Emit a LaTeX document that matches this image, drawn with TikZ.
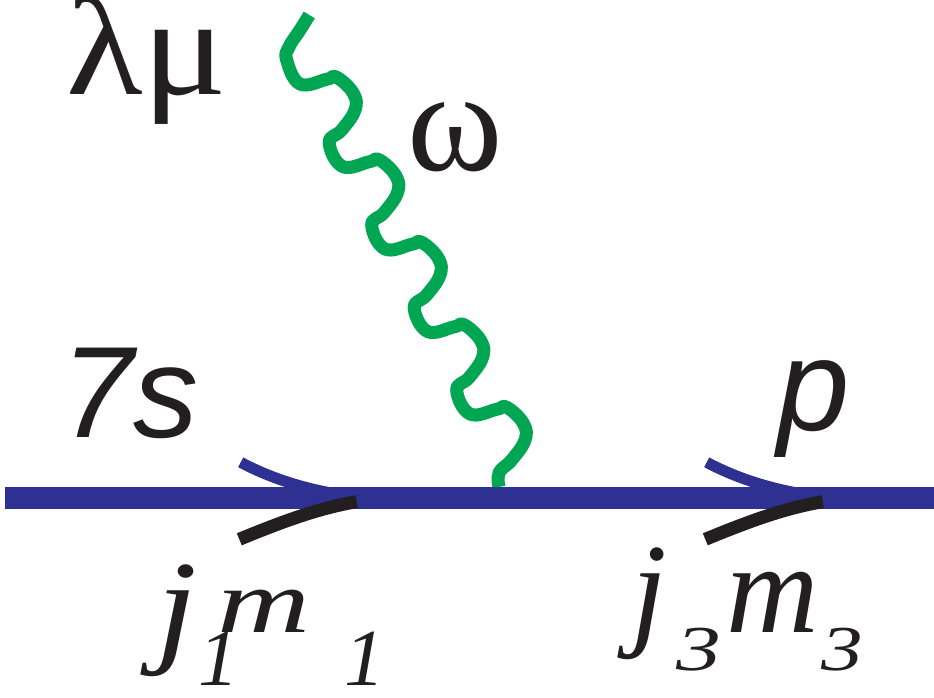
\documentclass[tikz,border=0pt]{standalone}
\usepackage{fontspec}
\usepackage{graphicx}
\setmainfont{Liberation Serif}
\newfontfamily\sansfnt{Liberation Sans}
\definecolor{lineblue}{RGB}{46,49,146}
\definecolor{photongreen}{RGB}{0,166,81}
\definecolor{inkblack}{RGB}{35,31,32}
\newcommand\glyphat[2]{\rlap{\hspace*{#1}#2}}
\newcommand\setfs[1]{\fontsize{#1}{#1}\selectfont}
\begin{document}
\begin{tikzpicture}[x=1pt,y=-1pt,
  fermion/.style={lineblue, line width=22pt},
  photon/.style={photongreen, line width=13pt, line join=round},
  bluearc/.style={lineblue, line width=11pt},
  blackarc/.style={inkblack, line width=13pt},
  lbl/.style={inner sep=0pt, outer sep=0pt, anchor=base west, text=inkblack}]
\useasboundingbox (0,0) rectangle (934,698);
% photon
\coordinate (wtop) at (309.3,15);
\coordinate (vtx) at (499,487);
\draw[photon] plot[smooth, tension=0.7] coordinates {(wtop) (300,30) (289,47)
  (286.7,60) (300,84) (326.7,79.3) (336.7,77.3) (353.3,93.3) (355,110) (341.7,130)
  (329.2,142.5) (342.5,166.5) (369.2,161.8) (379.2,159.8) (395.8,175.8) (397.5,192.5) (384.2,212.5)
  (371.7,225) (385,249) (411.7,244.3) (421.7,242.3) (438.3,258.3) (440,275) (426.7,295)
  (414.2,307.5) (427.5,331.5) (454.2,326.8) (464.2,324.8) (480.8,340.8) (482.5,357.5) (469.2,377.5)
  (456.7,390) (470,414) (496.7,409.3) (506.7,407.3) (523.3,423.3) (525,440) (511.7,460)
  (499.2,472.5) (vtx)};
% fermion line
\coordinate (fin) at (5,498);
\coordinate (fout) at (934,498);
\draw[fermion] (fin) -- (fout);
% arrow marks
\foreach \dx in {0,466}{
  \begin{scope}[xshift=\dx pt]
    \draw[bluearc] (240.7,462.3) .. controls (275.7,480.9) and (313,491) .. (350,496);
    \draw[blackarc] (239.3,539.3) .. controls (278.3,523.3) and (316.7,508.4) .. (356.7,501.7);
  \end{scope}
}
% labels
\node[lbl] (lm) at (66,95) {\setfs{140}\scalebox{1.13}[1]{λμ}};
\node[lbl] (om) at (407,170) {\setfs{145}ω};
\node[lbl] (sev) at (61,437) {\sansfnt\itshape\setfs{130}7s};
\node[lbl] (pp) at (777,430) {\sansfnt\itshape\setfs{130}p};
\node[lbl] (jm1) at (156,632) {\itshape
  \glyphat{0pt}{\raisebox{-17pt}{\setfs{128}\scalebox{1.15}[1]{j}}}%
  \glyphat{42pt}{\raisebox{-53pt}{\setfs{81}1}}%
  \glyphat{60.5pt}{\setfs{90}\scalebox{1.43}[1]{m}}%
  \glyphat{188pt}{\raisebox{-53pt}{\setfs{81}1}}};
\node[lbl] (jm3) at (631,632) {\itshape
  \glyphat{0pt}{\setfs{128}j}%
  \glyphat{45pt}{\raisebox{-38pt}{\setfs{64}\scalebox{1.4}[1]{3}}}%
  \glyphat{94.5pt}{\setfs{128}m}%
  \glyphat{190pt}{\raisebox{-38pt}{\setfs{64}\scalebox{1.3}[1]{3}}}};
\end{tikzpicture}
\end{document}
